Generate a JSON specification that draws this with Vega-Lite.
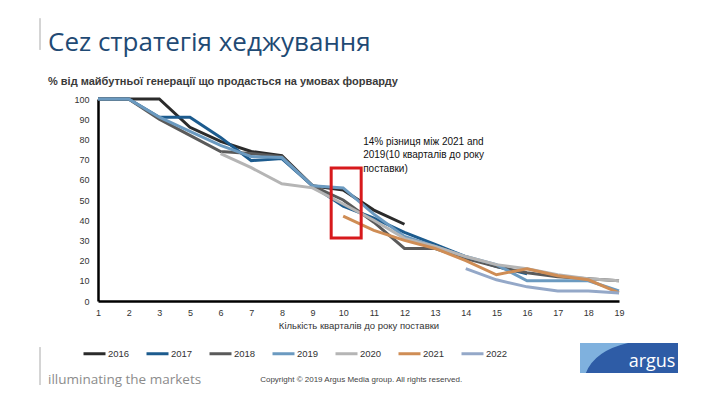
{
"$schema":"https://vega.github.io/schema/vega-lite/v6.json",
"width":521,"height":202,
"autosize":{"type":"none"},
"padding":{"left":98,"top":99,"right":101,"bottom":104},
"background":"#ffffff",
"config":{"view":{"stroke":null},"font":"Liberation Sans",
 "axisY":{"labelOverlap":false,"ticks":false,"labelPadding":9,"labelFontSize":9,"labelColor":"#333333","domainColor":"#000000","domainWidth":2.5,"grid":false},
 "axisX":{"labelAngle":0,"labelFontSize":9,"labelColor":"#333333","labelPadding":7,"ticks":false,"domainColor":"#000000","domainWidth":2.5,"titleFontSize":9.5,"titleFontWeight":"normal","titleColor":"#333333","titlePadding":3,"labelOverlap":false}},
"title":{"text":"Cez стратегія хеджування","subtitle":"% від майбутньої генерації що продасться на умовах форварду","anchor":"start","frame":"group","dx":-50,"offset":-69,"font":"Open Sans","fontSize":26,"fontWeight":"normal","color":"#1f4a74","subtitleFont":"Liberation Sans","subtitleFontSize":11,"subtitleFontWeight":"bold","subtitleColor":"#3a3a3a","subtitlePadding":20},
"datasets":{"series":[
{"year":"2016","q":"1","v":100},{"year":"2016","q":"2","v":100},{"year":"2016","q":"3","v":100},{"year":"2016","q":"5","v":86},{"year":"2016","q":"6","v":79},{"year":"2016","q":"7","v":74},{"year":"2016","q":"8","v":72},{"year":"2016","q":"9","v":57},{"year":"2016","q":"10","v":55},{"year":"2016","q":"11","v":45},{"year":"2016","q":"12","v":38},
{"year":"2017","q":"1","v":100},{"year":"2017","q":"2","v":100},{"year":"2017","q":"3","v":91},{"year":"2017","q":"5","v":91},{"year":"2017","q":"6","v":81},{"year":"2017","q":"7","v":69.5},{"year":"2017","q":"8","v":70.5},{"year":"2017","q":"9","v":57},{"year":"2017","q":"10","v":47},{"year":"2017","q":"11","v":41},{"year":"2017","q":"12","v":34},{"year":"2017","q":"13","v":28},{"year":"2017","q":"14","v":22},{"year":"2017","q":"15","v":17},{"year":"2017","q":"16","v":13.5},
{"year":"2018","q":"1","v":100},{"year":"2018","q":"2","v":100},{"year":"2018","q":"3","v":90},{"year":"2018","q":"5","v":82},{"year":"2018","q":"6","v":74},{"year":"2018","q":"7","v":73},{"year":"2018","q":"8","v":71.5},{"year":"2018","q":"9","v":57},{"year":"2018","q":"10","v":50},{"year":"2018","q":"11","v":39},{"year":"2018","q":"12","v":26},{"year":"2018","q":"13","v":26},{"year":"2018","q":"14","v":21},{"year":"2018","q":"15","v":17},{"year":"2018","q":"16","v":14},{"year":"2018","q":"17","v":12},{"year":"2018","q":"18","v":11},{"year":"2018","q":"19","v":10},
{"year":"2019","q":"1","v":100},{"year":"2019","q":"2","v":100},{"year":"2019","q":"3","v":91},{"year":"2019","q":"5","v":84},{"year":"2019","q":"6","v":77},{"year":"2019","q":"7","v":71.5},{"year":"2019","q":"8","v":71},{"year":"2019","q":"9","v":57},{"year":"2019","q":"10","v":56},{"year":"2019","q":"11","v":43},{"year":"2019","q":"12","v":32},{"year":"2019","q":"13","v":27},{"year":"2019","q":"14","v":22},{"year":"2019","q":"15","v":18},{"year":"2019","q":"16","v":10},{"year":"2019","q":"17","v":10},{"year":"2019","q":"18","v":10},{"year":"2019","q":"19","v":5},
{"year":"2020","q":"6","v":73},{"year":"2020","q":"7","v":66},{"year":"2020","q":"8","v":58},{"year":"2020","q":"9","v":56},{"year":"2020","q":"10","v":48},{"year":"2020","q":"11","v":40},{"year":"2020","q":"12","v":31},{"year":"2020","q":"13","v":27},{"year":"2020","q":"14","v":22},{"year":"2020","q":"15","v":18},{"year":"2020","q":"16","v":16},{"year":"2020","q":"17","v":13},{"year":"2020","q":"18","v":11},{"year":"2020","q":"19","v":10},
{"year":"2021","q":"10","v":42},{"year":"2021","q":"11","v":35},{"year":"2021","q":"12","v":30},{"year":"2021","q":"13","v":26},{"year":"2021","q":"14","v":20},{"year":"2021","q":"15","v":13},{"year":"2021","q":"16","v":16},{"year":"2021","q":"17","v":12.5},{"year":"2021","q":"18","v":10.5},{"year":"2021","q":"19","v":4},
{"year":"2022","q":"14","v":16},{"year":"2022","q":"15","v":10.5},{"year":"2022","q":"16","v":7},{"year":"2022","q":"17","v":5},{"year":"2022","q":"18","v":5},{"year":"2022","q":"19","v":4}
]},
"layer":[
{"data":{"name":"series"},
 "mark":{"type":"line","strokeWidth":3},
 "encoding":{
  "x":{"field":"q","type":"ordinal","scale":{"type":"point","domain":["1","2","3","5","6","7","8","9","10","11","12","13","14","15","16","17","18","19"],"padding":0},
       "axis":{"title":"Кількість кварталів до року поставки"}},
  "y":{"field":"v","type":"quantitative","scale":{"domain":[0,100]},
       "axis":{"title":null,"values":[0,10,20,30,40,50,60,70,80,90,100],"labelOverlap":false}},
  "color":{"field":"year","type":"nominal","scale":{"domain":["2016","2017","2018","2019","2020","2021","2022"],"range":["#2b2b2b","#1c5b8e","#5a5a5a","#6b9ac0","#b5b5b5","#cf8d55","#94a8c8"]},
       "legend":{"orient":"none","legendX":-16,"legendY":242,"direction":"horizontal","title":null,"symbolType":"stroke","symbolStrokeWidth":3,"symbolSize":484,"labelFontSize":9.5,"labelColor":"#333333","columnPadding":10,"labelOffset":1}},
  "order":{"value":null}
 }},
{"data":{"values":[{}]},
 "mark":{"type":"bar","width":30,"filled":false,"stroke":"#d7191c","strokeWidth":3,"xOffset":3},
 "encoding":{"x":{"datum":"10","type":"ordinal"},"y":{"datum":65.8,"type":"quantitative","axis":{"title":null,"values":[0,10,20,30,40,50,60,70,80,90,100],"labelOverlap":false}},"y2":{"datum":31.2}}},
{"data":{"values":[{"t":"14% різниця між 2021 and\n2019(10 кварталів до року\nпоставки)"}]},
 "mark":{"type":"text","align":"left","baseline":"top","fontSize":10,"lineHeight":13.5,"lineBreak":"\n","color":"#111111","xOffset":20},
 "encoding":{"x":{"datum":"10","type":"ordinal"},"y":{"datum":81.2,"type":"quantitative","axis":{"title":null,"values":[0,10,20,30,40,50,60,70,80,90,100],"labelOverlap":false}},"text":{"field":"t"}}},
{"data":{"values":[{}]},
 "mark":{"type":"bar","width":98,"fill":"#2e5ca6","xOffset":10},
 "encoding":{"x":{"datum":"19","type":"ordinal"},"y":{"datum":-20.8,"type":"quantitative","axis":{"title":null,"values":[0,10,20,30,40,50,60,70,80,90,100],"labelOverlap":false}},"y2":{"datum":-35.6}}},
{"data":{"values":[{}]},
 "mark":{"type":"point","filled":true,"fill":"#7fb1de","opacity":1,"strokeWidth":0,"size":9604,"xOffset":10,"shape":"M-1,-0.306 L-0.02,-0.306 Q-0.7,-0.15 -0.88,0.306 L-1,0.306 Z"},
 "encoding":{"x":{"datum":"19","type":"ordinal"},"y":{"datum":-28.2,"type":"quantitative","axis":{"title":null,"values":[0,10,20,30,40,50,60,70,80,90,100],"labelOverlap":false}}}},
{"data":{"values":[{"t":"argus"}]},
 "mark":{"type":"text","align":"center","baseline":"middle","fontSize":18,"font":"Open Sans","color":"#ffffff","xOffset":33},
 "encoding":{"x":{"datum":"19","type":"ordinal"},"y":{"datum":-30,"type":"quantitative","axis":{"title":null,"values":[0,10,20,30,40,50,60,70,80,90,100],"labelOverlap":false}},"text":{"field":"t"}}},
{"data":{"values":[{"t":"illuminating the markets"}]},
 "mark":{"type":"text","align":"left","baseline":"alphabetic","fontSize":13.5,"font":"Open Sans","color":"#8c8c8c","xOffset":-50},
 "encoding":{"x":{"datum":"1","type":"ordinal"},"y":{"datum":-41,"type":"quantitative","axis":{"title":null,"values":[0,10,20,30,40,50,60,70,80,90,100],"labelOverlap":false}},"text":{"field":"t"}}},
{"data":{"values":[{"t":"Copyright © 2019 Argus Media group. All rights reserved."}]},
 "mark":{"type":"text","align":"center","baseline":"middle","fontSize":8,"color":"#444444","xOffset":18},
 "encoding":{"x":{"datum":"10","type":"ordinal"},"y":{"datum":-39,"type":"quantitative","axis":{"title":null,"values":[0,10,20,30,40,50,60,70,80,90,100],"labelOverlap":false}},"text":{"field":"t"}}},
{"data":{"values":[{}]},
 "mark":{"type":"rule","color":"#aaaaaa","strokeWidth":1,"xOffset":-58},
 "encoding":{"x":{"datum":"1","type":"ordinal"},"y":{"datum":140,"type":"quantitative","axis":{"title":null,"values":[0,10,20,30,40,50,60,70,80,90,100],"labelOverlap":false}},"y2":{"datum":124.3}}},
{"data":{"values":[{}]},
 "mark":{"type":"rule","color":"#aaaaaa","strokeWidth":1,"xOffset":-58},
 "encoding":{"x":{"datum":"1","type":"ordinal"},"y":{"datum":-22.8,"type":"quantitative","axis":{"title":null,"values":[0,10,20,30,40,50,60,70,80,90,100],"labelOverlap":false}},"y2":{"datum":-41.6}}}
]
}
